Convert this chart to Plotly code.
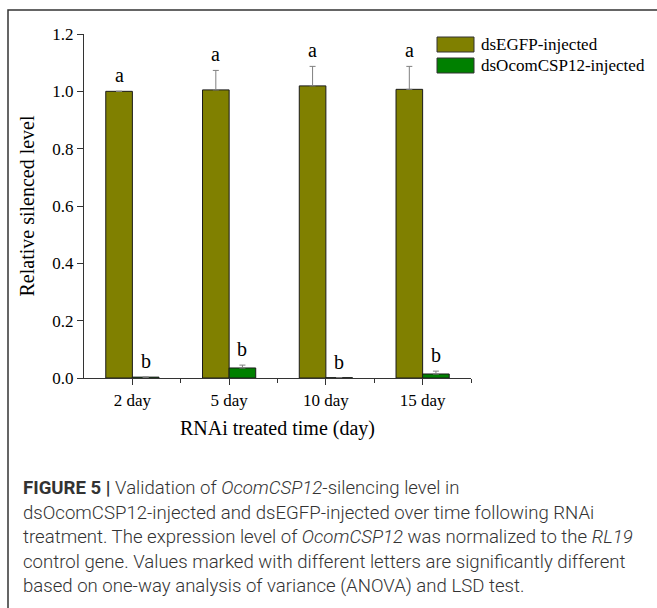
import plotly.graph_objects as go

# ---- data ----
categories = ["2 day", "5 day", "10 day", "15 day"]
egfp_values = [1.000, 1.005, 1.019, 1.007]
egfp_err = [None, 0.068, 0.068, 0.080]
csp_values = [0.003, 0.035, 0.001, 0.014]
csp_err = [None, 0.010, None, 0.010]
egfp_letters = ["a", "a", "a", "a"]
csp_letters = ["b", "b", "b", "b"]
series_names = ["dsEGFP-injected", "dsOcomCSP12-injected"]
y_ticks = [0.0, 0.2, 0.4, 0.6, 0.8, 1.0, 1.2]

W, H = 657, 608
L, R, T, B = 84, 186, 34, 230
PW, PH = W - L - R, H - T - B

def px(x):
    return (x - L) / PW

def py(y):
    return (H - B - y) / PH

SERIF = "Liberation Serif, Times New Roman, serif"
OLIVE = "#808000"
GREEN = "#008000"
AXC = "#333333"

def top(v, e):
    return v + (e or 0)

fig = go.Figure()
fig.add_trace(go.Bar(
    x=categories, y=egfp_values, name=series_names[0],
    marker=dict(color=OLIVE, line=dict(color="#1a1a1a", width=1)),
    error_y=dict(type="data", symmetric=False, array=egfp_err,
                 arrayminus=[0 if e is not None else None for e in egfp_err],
                 color="#808080", thickness=1, width=3),
    showlegend=False,
))
fig.add_trace(go.Bar(
    x=categories, y=csp_values, name=series_names[1],
    marker=dict(color=GREEN, line=dict(color="#1a1a1a", width=1)),
    error_y=dict(type="data", symmetric=False, array=csp_err,
                 arrayminus=[0 if e is not None else None for e in csp_err],
                 color="#808080", thickness=1, width=3),
    showlegend=False,
))

# minor ticks between categories via an overlaid linear axis
fig.add_trace(go.Scatter(x=[-0.5, 3.5], y=[0, 0], xaxis="x2", mode="lines",
                         line=dict(width=0), hoverinfo="skip", showlegend=False))

annotations = []
bar_px = 0.55 * PW / len(categories) / 2
for i, c in enumerate(categories):
    annotations.append(dict(x=c, y=top(egfp_values[i], egfp_err[i]), xref="x", yref="y",
                            text=egfp_letters[i], showarrow=False, xshift=-bar_px / 2,
                            yanchor="bottom", yshift=3,
                            font=dict(family=SERIF, size=20, color="#000")))
    annotations.append(dict(x=c, y=top(csp_values[i], csp_err[i]), xref="x", yref="y",
                            text=csp_letters[i], showarrow=False, xshift=bar_px / 2,
                            yanchor="bottom", yshift=3,
                            font=dict(family=SERIF, size=20, color="#000")))

# legend (custom, large swatches)
shapes = []
leg_colors = [OLIVE, GREEN]
for k, (nm, col) in enumerate(zip(series_names, leg_colors)):
    y0 = 37 + k * 21
    shapes.append(dict(type="rect", xref="paper", yref="paper",
                       x0=px(437), x1=px(474), y0=py(y0 + 15), y1=py(y0),
                       fillcolor=col, line=dict(color="#333", width=1)))
    annotations.append(dict(x=px(479), y=py(y0 + 7.5), xref="paper", yref="paper",
                            text=nm, showarrow=False, xanchor="left", yanchor="middle",
                            font=dict(family=SERIF, size=17, color="#000")))

# outer frame (clipped at right and bottom)
shapes.append(dict(type="path", xref="paper", yref="paper",
                   path=f"M {px(8)} {py(H + 5)} L {px(8)} {py(10)} L {px(W + 5)} {py(10)}",
                   line=dict(color="#333333", width=1.5)))

# caption
cap_lines = [
    "<b>FIGURE 5 |</b> Validation of <i>OcomCSP12</i>-silencing level in",
    "dsOcomCSP12-injected and dsEGFP-injected over time following RNAi",
    "treatment. The expression level of <i>OcomCSP12</i> was normalized to the <i>RL19</i>",
    "control gene. Values marked with different letters are significantly different",
    "based on one-way analysis of variance (ANOVA) and LSD test.",
]
for j, line in enumerate(cap_lines):
    annotations.append(dict(x=px(21), y=py(488 + j * 24.5), xref="paper", yref="paper",
                            text=line, showarrow=False, xanchor="left", yanchor="middle",
                            font=dict(family="Roboto, Liberation Sans, sans-serif",
                                      size=18.6, color="#333333", weight=300)))

fig.update_layout(
    width=W, height=H,
    margin=dict(l=L, r=R, t=T, b=B, autoexpand=False),
    paper_bgcolor="white", plot_bgcolor="white",
    barmode="group", bargap=0.45, bargroupgap=0,
    xaxis=dict(type="category", categoryorder="array", categoryarray=categories,
               range=[-0.5, 3.5], showline=True, linecolor=AXC, linewidth=1.3,
               ticks="outside", ticklen=6, tickcolor=AXC, tickwidth=1.3,
               tickfont=dict(family=SERIF, size=17, color="#000"),
               showgrid=False, zeroline=False,
               title=dict(text="RNAi treated time (day)", standoff=12,
                          font=dict(family=SERIF, size=20, color="#000"))),
    xaxis2=dict(overlaying="x", range=[-0.5, 3.5], tickvals=[0.5, 1.5, 2.5, 3.5],
                ticks="outside", ticklen=4, tickcolor=AXC, tickwidth=1.3,
                showticklabels=False, showgrid=False, zeroline=False, showline=False,
                side="bottom", anchor="y"),
    yaxis=dict(range=[0, 1.2], tickvals=y_ticks, ticktext=[f"{v:.1f}" for v in y_ticks],
               showline=True, linecolor=AXC, linewidth=1.3,
               ticks="outside", ticklen=6, tickcolor=AXC, tickwidth=1.3,
               tickfont=dict(family=SERIF, size=17, color="#000"),
               showgrid=False, zeroline=False,
               title=dict(text="Relative silenced level", standoff=12,
                          font=dict(family=SERIF, size=20, color="#000"))),
    annotations=annotations,
    shapes=shapes,
)

fig.write_html("out.html")
